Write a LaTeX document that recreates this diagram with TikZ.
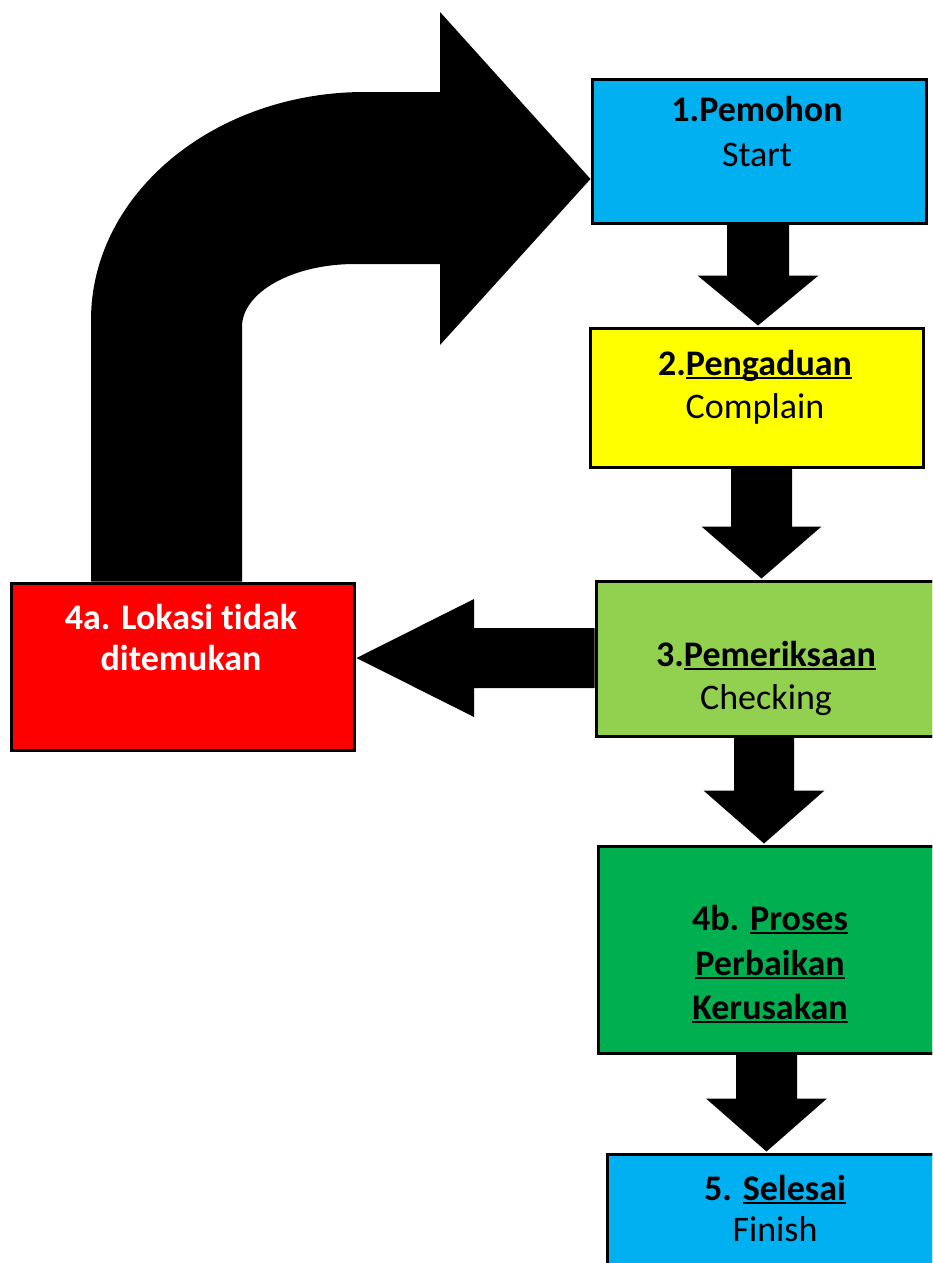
\documentclass[tikz,border=0pt]{standalone}
\usepackage{fontspec}
\setmainfont{Carlito}[Ligatures=NoCommon]
\usetikzlibrary{calc}
\definecolor{cyanbox}{HTML}{00B0F0}
\definecolor{yellowbox}{HTML}{FFFF00}
\definecolor{lightgreenbox}{HTML}{92D050}
\definecolor{greenbox}{HTML}{00B050}
\definecolor{redbox}{HTML}{FF0000}
\newcommand{\ulx}[1]{\setbox0\hbox{#1}\rlap{\rule[-0.12em]{\wd0}{0.075em}}\box0}
\newcommand{\blockdown}[6]{%
  \fill[blockarrow] let \p1=(#1.south), \p2=(#2.north) in
    ({#3pt-#4pt},\y1) -- ({#3pt+#4pt},\y1) -- ({#3pt+#4pt},{\y2+#6pt}) --
    ({#3pt+#5pt},{\y2+#6pt}) -- ({#3pt},{\y2+1pt}) -- ({#3pt-#5pt},{\y2+#6pt}) --
    ({#3pt-#4pt},{\y2+#6pt}) -- cycle;}
\begin{document}
\begin{tikzpicture}[x=1pt,y=-1pt,
  box/.style={draw=black,line width=3pt,inner sep=0pt,rectangle},
  blockarrow/.style={fill=black,draw=none},
  txt/.style={anchor=base,inner sep=0pt,font=\fontsize{36}{43}\selectfont},
  wtxt/.style={txt,text=white,font=\fontsize{36}{43}\selectfont\bfseries}]
\useasboundingbox (0,0) rectangle (932,1263);
\clip (0,0) rectangle (932,1263);
\fill[white] (0,0) rectangle (932,1263);

% boxes (positions only, drawn again on top of the arrows)
\path
  (759,151)    node[box,fill=cyanbox,minimum width=334pt,minimum height=144pt] (b1) {}
  (756.5,397.5) node[box,fill=yellowbox,minimum width=333pt,minimum height=139pt] (b2) {}
  (766,658.5)  node[box,fill=lightgreenbox,minimum width=340pt,minimum height=155pt] (b3) {}
  (182.5,666.5) node[box,fill=redbox,minimum width=343pt,minimum height=167pt] (b4a) {}
  (770,949.5)  node[box,fill=greenbox,minimum width=344pt,minimum height=207pt] (b4b) {}
  (773.5,1227) node[box,fill=cyanbox,minimum width=333pt,minimum height=146pt] (b5) {};

% down block arrows
\blockdown{b1}{b2}{758}{31}{60.5}{51}
\blockdown{b2}{b3}{761.5}{30.5}{60}{53}
\blockdown{b3}{b4b}{764}{30}{60.5}{54}
\blockdown{b4b}{b5}{766.5}{30.5}{60.5}{54}

% left block arrow from 3 to 4a
\fill[blockarrow] let \p1=(b3.west), \p2=(b4a.east) in
  (\x1,-628pt) -- (474pt,-628pt) -- (474pt,-599pt) -- ({\x2+1pt},-658pt) --
  (474pt,-717pt) -- (474pt,-688pt) -- (\x1,-688pt) -- cycle;

% curved block arrow from 4a to 1
\fill[blockarrow] (91,0 |- b4a.north) -- (91,320)
  .. controls (91,194) and (214,92) .. (365,92) -- (440,92) -- (440,12)
  -- (b1.west |- 0,179) -- (440,345) -- (440,264) -- (355,264)
  .. controls (293,264) and (242,292) .. (242,327) -- (242,0 |- b4a.north) -- cycle;

% redraw boxes on top
\path
  (759,151)    node[box,fill=cyanbox,minimum width=334pt,minimum height=144pt] {}
  (756.5,397.5) node[box,fill=yellowbox,minimum width=333pt,minimum height=139pt] {}
  (766,658.5)  node[box,fill=lightgreenbox,minimum width=340pt,minimum height=155pt] {}
  (182.5,666.5) node[box,fill=redbox,minimum width=343pt,minimum height=167pt] {}
  (770,949.5)  node[box,fill=greenbox,minimum width=344pt,minimum height=207pt] {}
  (773.5,1227) node[box,fill=cyanbox,minimum width=333pt,minimum height=146pt] {};

% texts
\node[txt] (t1a) at (757,121.7) {\textbf{1.Pemohon}};
\node[txt] (t1b) at (757,166) {Start};
\node[txt] (t2a) at (755,375) {\textbf{2.\ulx{Pengaduan}}};
\node[txt] (t2b) at (755,418) {Complain};
\node[txt] (t3a) at (766,666) {\textbf{3.\ulx{Pemeriksaan}}};
\node[txt] (t3b) at (766,709) {Checking};
\node[wtxt] (t4aa) at (181,629) {4a. Lokasi tidak};
\node[wtxt] (t4ab) at (181,670) {ditemukan};
\node[txt] (t4ba) at (770,930) {\textbf{4b. \ulx{Proses}}};
\node[txt] (t4bb) at (770,975) {\textbf{\ulx{Perbaikan}}};
\node[txt] (t4bc) at (770,1019) {\textbf{\ulx{Kerusakan}}};
\node[txt] (t5a) at (775,1200) {\textbf{5. \ulx{Selesai}}};
\node[txt] (t5b) at (775,1241) {Finish};
\end{tikzpicture}
\end{document}
